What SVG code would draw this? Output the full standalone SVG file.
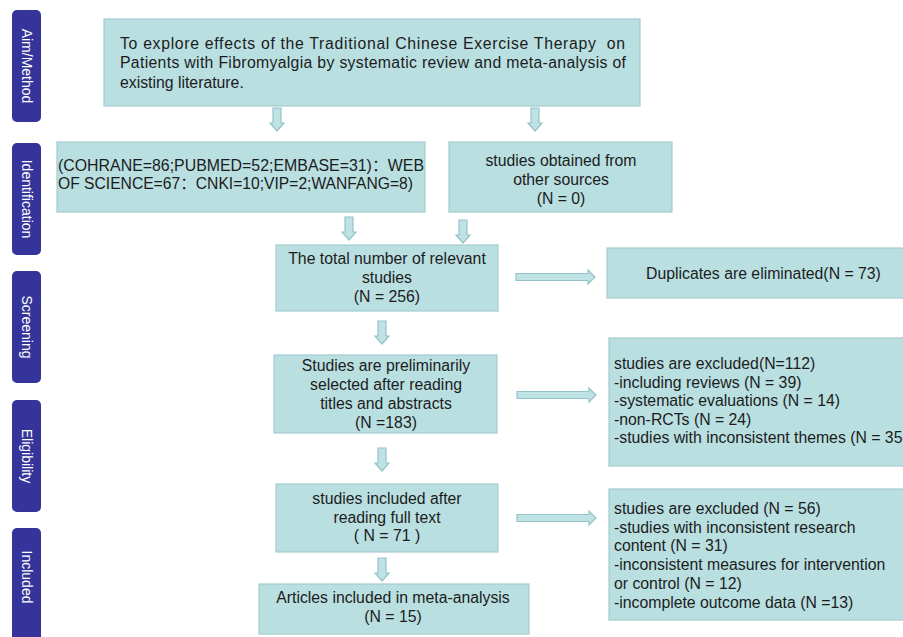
<svg xmlns="http://www.w3.org/2000/svg" width="903" height="637" viewBox="0 0 903 637">
<style>
.lbl{fill:#35349a;}
.lt{fill:#ffffff;font-family:"Liberation Sans",Arial,sans-serif;font-size:14px;text-anchor:middle;dominant-baseline:central;}
.box{fill:#b9dfe1;stroke:#a3cbce;stroke-width:1.2;}
.t{fill:#1c1c1c;font-family:"Liberation Sans","Noto Sans CJK SC",Arial,sans-serif;font-size:15.8px;}
.c{text-anchor:middle;}
.arr{fill:#bfe2e4;stroke:#94c4c8;stroke-width:1.2;}
</style>
<defs>
<path id="ad" d="M-4,0 H4 V15 H7 L0,23 L-7,15 H-4 Z"/>
<path id="ar" d="M0,-3.5 H72 V-7 L79,0 L72,7 V3.5 H0 Z"/>
</defs>
<rect width="903" height="637" fill="#ffffff"/>
<g id="stage-labels">
<g id="lbl-aim"><rect class="lbl" x="12" y="10" width="29" height="112" rx="5"/><text class="lt" transform="translate(27,66) rotate(90)">Aim/Method</text></g>
<g id="lbl-identification"><rect class="lbl" x="12" y="143" width="29" height="112" rx="5"/><text class="lt" transform="translate(27,199) rotate(90)">Identification</text></g>
<g id="lbl-screening"><rect class="lbl" x="12" y="271" width="29" height="112" rx="5"/><text class="lt" transform="translate(27,327) rotate(90)">Screening</text></g>
<g id="lbl-eligibility"><rect class="lbl" x="12" y="400" width="29" height="112" rx="5"/><text class="lt" transform="translate(27,456) rotate(90)">Eligibility</text></g>
<g id="lbl-included"><rect class="lbl" x="12" y="528" width="29" height="118" rx="5"/><text class="lt" transform="translate(27,577) rotate(90)">Included</text></g>
</g>
<g id="aim">
<rect class="box" x="104" y="19" width="536" height="87"/>
<text class="t" x="120" y="49" textLength="505" lengthAdjust="spacing" xml:space="preserve">To explore effects of the Traditional Chinese Exercise Therapy  on</text>
<text class="t" x="120" y="68" textLength="506" lengthAdjust="spacing">Patients with Fibromyalgia by systematic review and meta-analysis of</text>
<text class="t" x="120" y="88">existing literature.</text>
</g>
<g id="databases">
<rect class="box" x="57" y="142" width="368" height="70"/>
<text class="t" x="58" y="171" textLength="366" lengthAdjust="spacingAndGlyphs">(COHRANE=86;PUBMED=52;EMBASE=31)：WEB</text>
<text class="t" x="58" y="189" textLength="355" lengthAdjust="spacingAndGlyphs">OF SCIENCE=67：CNKI=10;VIP=2;WANFANG=8)</text>
</g>
<g id="other-sources">
<rect class="box" x="449" y="142" width="223" height="70"/>
<text class="t c" x="561" y="166">studies obtained from</text>
<text class="t c" x="561" y="185">other sources</text>
<text class="t c" x="561" y="204">(N = 0)</text>
</g>
<g id="total">
<rect class="box" x="276" y="245" width="222" height="66"/>
<text class="t c" x="387" y="264">The total number of relevant</text>
<text class="t c" x="387" y="283">studies</text>
<text class="t c" x="387" y="302">(N = 256)</text>
</g>
<g id="duplicates">
<rect class="box" x="607" y="248" width="300" height="50"/>
<text class="t" x="646" y="279">Duplicates are eliminated(N = 73)</text>
</g>
<g id="preliminary">
<rect class="box" x="274" y="355" width="223" height="78"/>
<text class="t c" x="386" y="371">Studies are preliminarily</text>
<text class="t c" x="386" y="390">selected after reading</text>
<text class="t c" x="386" y="409">titles and abstracts</text>
<text class="t c" x="386" y="428">(N =183)</text>
</g>
<g id="excluded-1">
<rect class="box" x="609" y="338" width="300" height="128"/>
<text class="t" x="614" y="369">studies are excluded(N=112)</text>
<text class="t" x="614" y="388">-including reviews (N = 39)</text>
<text class="t" x="614" y="406">-systematic evaluations (N = 14)</text>
<text class="t" x="614" y="425">-non-RCTs (N = 24)</text>
<text class="t" x="614" y="443">-studies with inconsistent themes (N = 35</text>
</g>
<g id="fulltext">
<rect class="box" x="276" y="484" width="222" height="68"/>
<text class="t c" x="387" y="504">studies included after</text>
<text class="t c" x="387" y="523">reading full text</text>
<text class="t c" x="387" y="541">( N = 71 )</text>
</g>
<g id="excluded-2">
<rect class="box" x="609" y="489" width="300" height="131"/>
<text class="t" x="614" y="514">studies are excluded (N = 56)</text>
<text class="t" x="614" y="533">-studies with inconsistent research</text>
<text class="t" x="614" y="551">content (N = 31)</text>
<text class="t" x="614" y="570">-inconsistent measures for intervention</text>
<text class="t" x="614" y="589">or control (N = 12)</text>
<text class="t" x="614" y="608">-incomplete outcome data (N =13)</text>
</g>
<g id="meta">
<rect class="box" x="259" y="584" width="270" height="50"/>
<text class="t c" x="393" y="603">Articles included in meta-analysis</text>
<text class="t c" x="393" y="622">(N = 15)</text>
</g>
<g id="connectors">
<use href="#ad" class="arr" x="277" y="108"/>
<use href="#ad" class="arr" x="535" y="108"/>
<use href="#ad" class="arr" x="349" y="217"/>
<use href="#ad" class="arr" x="463" y="220"/>
<use href="#ad" class="arr" x="382" y="321"/>
<use href="#ad" class="arr" x="382" y="448"/>
<use href="#ad" class="arr" x="382" y="558"/>
<use href="#ar" class="arr" x="516" y="277"/>
<use href="#ar" class="arr" x="517" y="395"/>
<use href="#ar" class="arr" x="517" y="518"/>
</g>
</svg>
